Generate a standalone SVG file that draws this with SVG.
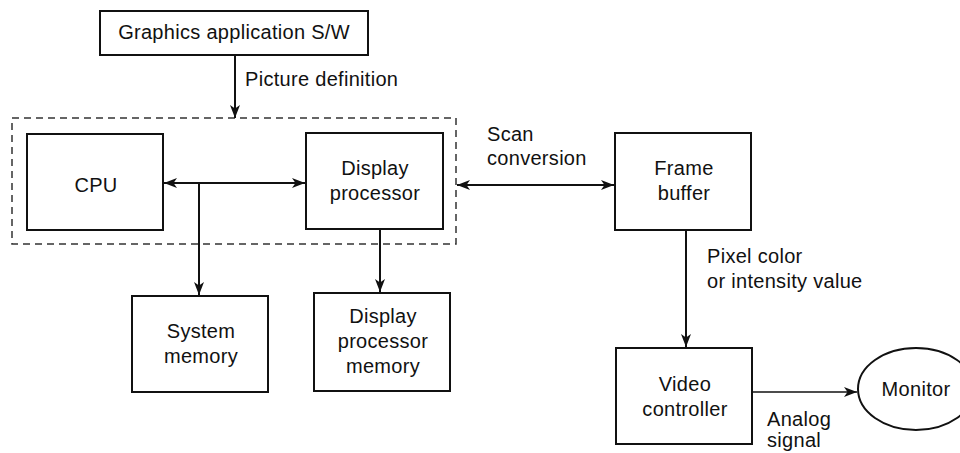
<svg xmlns="http://www.w3.org/2000/svg" width="960" height="453" viewBox="0 0 960 453">
  <style>
    .box { fill: #fff; stroke: #111; stroke-width: 2; }
    .wire { fill: none; stroke: #111; stroke-width: 2; }
    .thin { fill: none; stroke: #111; stroke-width: 1.5; }
    .group { fill: none; stroke: #333; stroke-width: 1.5; stroke-dasharray: 7 5; }
    text { font-family: "Liberation Sans", Arial, sans-serif; font-size: 20px; fill: #111; letter-spacing: 0.3px; }
    .c { text-anchor: middle; }
  </style>
  <defs>
    <marker id="head" markerUnits="userSpaceOnUse" markerWidth="14" markerHeight="12" refX="13" refY="6" orient="auto-start-reverse">
      <path d="M0,1 L13,6 L0,11 L3.5,6 Z" fill="#111"/>
    </marker>
  </defs>

  <rect class="group" x="12" y="118" width="444" height="126"/>

  <g id="connectors">
    <line class="wire" x1="235" y1="55" x2="235" y2="118" marker-end="url(#head)"/>
    <line class="wire" x1="164" y1="183" x2="305" y2="183" marker-start="url(#head)" marker-end="url(#head)"/>
    <line class="wire" x1="199" y1="183" x2="199" y2="295" marker-end="url(#head)"/>
    <line class="wire" x1="380" y1="229" x2="380" y2="292" marker-end="url(#head)"/>
    <line class="wire" x1="457" y1="185" x2="614" y2="185" marker-start="url(#head)" marker-end="url(#head)"/>
    <line class="wire" x1="686" y1="230" x2="686" y2="347" marker-end="url(#head)"/>
    <line class="thin" x1="752" y1="392" x2="857" y2="392" marker-end="url(#head)"/>
    <text x="245" y="86">Picture definition</text>
    <text x="487" y="141">Scan</text>
    <text x="487" y="165">conversion</text>
    <text x="707" y="263">Pixel color</text>
    <text x="707" y="288">or intensity value</text>
    <text x="767" y="426">Analog</text>
    <text x="767" y="447">signal</text>
  </g>

  <g id="app">
    <rect class="box" x="100" y="11" width="268" height="44"/>
    <text class="c" x="234" y="39">Graphics application S/W</text>
  </g>

  <g id="cpu">
    <rect class="box" x="27" y="134" width="136" height="96"/>
    <text class="c" x="96" y="192">CPU</text>
  </g>

  <g id="display-processor">
    <rect class="box" x="306" y="133" width="137" height="96"/>
    <text class="c" x="375" y="175">Display</text>
    <text class="c" x="375" y="200">processor</text>
  </g>

  <g id="system-memory">
    <rect class="box" x="132" y="296" width="136" height="96"/>
    <text class="c" x="201" y="338">System</text>
    <text class="c" x="201" y="363">memory</text>
  </g>

  <g id="display-processor-memory">
    <rect class="box" x="314" y="293" width="136" height="98"/>
    <text class="c" x="383" y="323">Display</text>
    <text class="c" x="383" y="348">processor</text>
    <text class="c" x="383" y="373">memory</text>
  </g>

  <g id="frame-buffer">
    <rect class="box" x="615" y="133" width="136" height="97"/>
    <text class="c" x="684" y="175">Frame</text>
    <text class="c" x="684" y="200">buffer</text>
  </g>

  <g id="video-controller">
    <rect class="box" x="616" y="348" width="136" height="96"/>
    <text class="c" x="685" y="391">Video</text>
    <text class="c" x="685" y="416">controller</text>
  </g>

  <g id="monitor">
    <ellipse class="box" cx="916" cy="389" rx="58" ry="41"/>
    <text class="c" x="916" y="396">Monitor</text>
  </g>
</svg>
